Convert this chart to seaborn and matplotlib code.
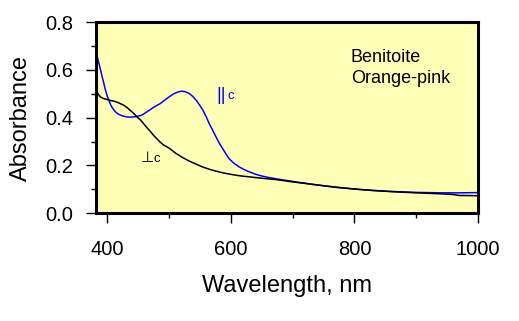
import matplotlib
matplotlib.use("Agg")
import matplotlib.pyplot as plt
import seaborn as sns
import pandas as pd
from matplotlib.ticker import MultipleLocator, FormatStrFormatter

# ||c (blue)
par_wl = [381, 384, 387, 390, 392, 395, 397, 400, 403, 406, 408, 411, 414, 418, 422, 427, 432, 438, 443, 448,
          454, 459, 464, 470, 475, 481, 486, 491, 497, 502, 507, 513, 520, 526, 533, 538, 544, 549, 555, 560,
          565, 571, 576, 581, 587, 592, 597, 605, 614, 622, 630, 640, 651, 662, 673, 690, 710, 740, 770, 800,
          830, 860, 900, 940, 970, 1000]
par_abs = [0.683, 0.655, 0.625, 0.592, 0.571, 0.540, 0.518, 0.492, 0.471, 0.452, 0.443, 0.432, 0.423, 0.415,
           0.410, 0.406, 0.403, 0.402, 0.403, 0.405, 0.409, 0.415, 0.424, 0.434, 0.443, 0.452, 0.459, 0.469,
           0.481, 0.490, 0.499, 0.506, 0.511, 0.509, 0.501, 0.490, 0.473, 0.455, 0.431, 0.405, 0.376, 0.346,
           0.320, 0.295, 0.270, 0.249, 0.229, 0.209, 0.193, 0.182, 0.173, 0.163, 0.155, 0.149, 0.144, 0.137,
           0.129, 0.118, 0.108, 0.101, 0.095, 0.091, 0.087, 0.085, 0.085, 0.086]
# ⊥c (black)
perp_wl = [383, 386, 389, 394, 400, 405, 411, 416, 421, 427, 432, 437, 443, 448, 454, 459, 464, 470, 475, 481,
           486, 491, 501, 511, 522, 533, 544, 554, 565, 576, 587, 597, 608, 619, 630, 651, 672, 700, 740, 770,
           800, 830, 860, 900, 940, 960, 970, 1000]
perp_abs = [0.508, 0.497, 0.487, 0.480, 0.476, 0.472, 0.469, 0.465, 0.459, 0.452, 0.443, 0.431, 0.418, 0.404,
            0.390, 0.375, 0.359, 0.342, 0.326, 0.310, 0.297, 0.286, 0.271, 0.251, 0.233, 0.218, 0.205, 0.194,
            0.184, 0.176, 0.169, 0.164, 0.159, 0.155, 0.152, 0.146, 0.141, 0.131, 0.118, 0.109, 0.101, 0.095,
            0.090, 0.085, 0.081, 0.078, 0.074, 0.073]

df = pd.concat([
    pd.DataFrame({"wl": par_wl, "A": par_abs, "pol": "par"}),
    pd.DataFrame({"wl": perp_wl, "A": perp_abs, "pol": "perp"}),
])

sns.set_style("ticks")
plt.rcParams["font.family"] = ["Liberation Sans", "DejaVu Sans"]
plt.rcParams["text.color"] = "black"
plt.rcParams["axes.labelcolor"] = "black"
plt.rcParams["xtick.color"] = "black"
plt.rcParams["ytick.color"] = "black"

fig = plt.figure(figsize=(5.19, 3.21), dpi=100)
ax = fig.add_axes([0.185, 0.336, 0.736, 0.595])
ax.set_facecolor("#ffffb8")

sns.lineplot(data=df, x="wl", y="A", hue="pol", palette={"par": "#0000ff", "perp": "#000000"},
             linewidth=1.1, legend=False, ax=ax, sort=True)

ax.set_xlim(382, 1000)
ax.set_ylim(0, 0.8)
ax.xaxis.set_major_locator(MultipleLocator(200))
ax.xaxis.set_minor_locator(MultipleLocator(100))
ax.yaxis.set_major_locator(MultipleLocator(0.2))
ax.yaxis.set_minor_locator(MultipleLocator(0.1))
ax.yaxis.set_major_formatter(FormatStrFormatter("%.1f"))
ax.tick_params(which="major", direction="out", length=7.2, width=1, labelsize=14.5,
               color="black", labelcolor="black")
ax.tick_params(which="minor", direction="out", length=3.3, width=1, color="black")
ax.tick_params(axis="x", which="major", pad=12)
ax.tick_params(axis="y", which="major", pad=9)
for s in ax.spines.values():
    s.set_linewidth(2.2)
    s.set_color("black")

ax.set_xlabel("Wavelength, nm", fontsize=17, labelpad=12, color="black")
ax.set_ylabel("Absorbance", fontsize=17, labelpad=10, color="black")

ax.text(585, 0.492, "||", color="#0000ff", fontsize=13, ha="center", va="center")
ax.text(594, 0.490, "c", color="#0000ff", fontsize=9.5, ha="left", va="center")
ax.text(465.5, 0.232, "⊥", color="black", fontsize=11, ha="center", va="center",
        family=["DejaVu Sans"])
ax.text(475, 0.226, "c", color="black", fontsize=9.5, ha="left", va="center")
ax.text(794, 0.634, "Benitoite", fontsize=13, ha="left", va="baseline", color="black")
ax.text(794, 0.546, "Orange-pink", fontsize=13, ha="left", va="baseline", color="black")

fig.savefig("out.png", dpi=100)
